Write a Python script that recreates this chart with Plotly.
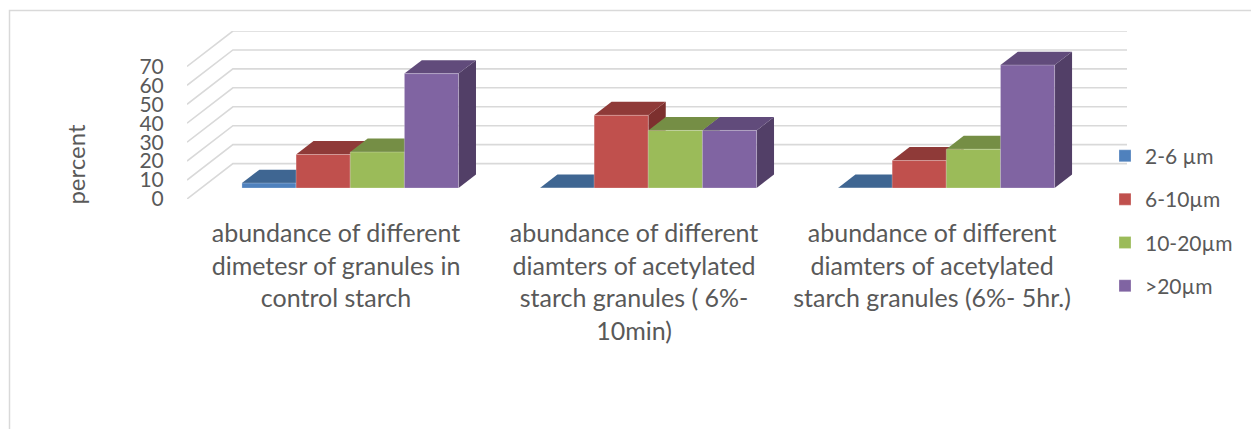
import plotly.graph_objects as go

# Share of granules per diameter class (percent) for each starch sample
categories = [
    "abundance of different<br>dimetesr of granules in<br>control starch",
    "abundance of different<br>diamters of acetylated<br>starch granules ( 6%-<br>10min)",
    "abundance of different<br>diamters of acetylated<br>starch granules (6%- 5hr.)",
]
series_names = ["2-6 µm", "6-10µm", "10-20µm", ">20µm"]
values_2_6 = [2.6, 0, 0]
values_6_10 = [17.7, 38.4, 14.5]
values_10_20 = [19, 30.4, 20.5]
values_over_20 = [60.4, 30.4, 64.9]
series_values = [values_2_6, values_6_10, values_10_20, values_over_20]
y_ticks = [0, 10, 20, 30, 40, 50, 60, 70]

front_colors = ["#4f81bd", "#c0504d", "#9bbb59", "#8064a2"]
top_colors = ["#3f6692", "#8f3a38", "#758e45", "#614b7b"]
side_colors = ["#355579", "#7d302e", "#627738", "#523f67"]
text_color = "#595959"
grid_color = "#d9d9d9"
font_family = "Lato"

# Oblique projection: full floor depth expressed in axis units
WALL_DX = 0.154
WALL_DY = 18.7
BAR_FRONT = 0.31    # where the front faces sit between the front edge and the wall
BAR_DEPTH = 0.38    # how deep each bar is, as a fraction of the floor
BAR_WIDTH = 0.1817  # in category units

FIG_W, FIG_H = 1251, 429
LEFT, RIGHT, TOP, BOTTOM = 187, 1127, 31, 199.5
X_RANGE = [-0.5, 2.5 + WALL_DX]
Y_RANGE = [0, 70 + WALL_DY]


def paper_x(px):
    return (px - LEFT) / (RIGHT - LEFT)


def paper_y(py):
    return (BOTTOM - py) / (BOTTOM - TOP)


def offset(depth):
    return depth * WALL_DX, depth * WALL_DY


fig = go.Figure()

# Floor diagonals and back-wall gridlines
for tick in y_ticks:
    dx, dy = offset(1)
    fig.add_trace(go.Scatter(
        x=[X_RANGE[0], X_RANGE[0] + dx, 2.5 + dx],
        y=[tick, tick + dy, tick + dy],
        mode="lines",
        line=dict(color=grid_color, width=1.6),
        cliponaxis=False,
        showlegend=False,
        hoverinfo="skip",
    ))

# Top and side faces, painted from left to right so later bars hide earlier ones
fx, fy = offset(BAR_FRONT)
bx, by = offset(BAR_DEPTH)
for c in range(len(categories)):
    for s, vals in enumerate(series_values):
        x0 = c + fx + (s - 2) * BAR_WIDTH
        x1 = x0 + BAR_WIDTH
        base = fy
        top = fy + vals[c]
        fig.add_trace(go.Scatter(
            x=[x1, x1 + bx, x1 + bx, x1, x1],
            y=[base, base + by, top + by, top, base],
            mode="lines", fill="toself", fillcolor=side_colors[s],
            line=dict(width=0), showlegend=False, hoverinfo="skip",
        ))
        fig.add_trace(go.Scatter(
            x=[x0, x1, x1 + bx, x0 + bx, x0],
            y=[top, top, top + by, top + by, top],
            mode="lines", fill="toself", fillcolor=top_colors[s],
            line=dict(width=0), showlegend=False, hoverinfo="skip",
        ))

# Front faces live on an overlaid subplot so they stay above the depth faces
for s, vals in enumerate(series_values):
    fig.add_trace(go.Bar(
        x=[c + fx for c in range(len(categories))],
        y=vals,
        base=[fy] * len(vals),
        name=series_names[s],
        legendgroup=series_names[s],
        marker=dict(color=front_colors[s], line=dict(color="rgba(255,255,255,0.25)", width=1)),
        xaxis="x2",
        yaxis="y2",
    ))

fig.update_layout(
    width=FIG_W,
    height=FIG_H,
    margin=dict(l=LEFT, r=FIG_W - RIGHT, t=TOP, b=FIG_H - BOTTOM, autoexpand=False),
    paper_bgcolor="white",
    plot_bgcolor="rgba(0,0,0,0)",
    barmode="group",
    bargap=1 - 4 * BAR_WIDTH,
    bargroupgap=0,
    font=dict(family=font_family, color=text_color),
    xaxis=dict(
        range=X_RANGE,
        tickmode="array",
        tickvals=list(range(len(categories))),
        ticktext=categories,
        tickangle=0,
        tickfont=dict(size=25, color=text_color),
        ticks="outside", ticklen=12, tickcolor="rgba(0,0,0,0)",
        showgrid=False, zeroline=False, showline=False,
    ),
    yaxis=dict(
        range=Y_RANGE,
        tickmode="array",
        tickvals=y_ticks,
        tickfont=dict(size=21, color=text_color),
        ticks="outside", ticklen=18, tickcolor="rgba(0,0,0,0)",
        showgrid=False, zeroline=False, showline=False,
    ),
    xaxis2=dict(range=X_RANGE, overlaying="x", visible=False),
    yaxis2=dict(range=Y_RANGE, overlaying="y", visible=False),
    legend=dict(
        x=paper_x(1105), xanchor="left",
        y=paper_y(136), yanchor="top",
        font=dict(size=21, color=text_color),
        tracegroupgap=13,
        itemwidth=30,
        maxheight=300,
        bgcolor="rgba(0,0,0,0)",
    ),
    annotations=[dict(
        text="percent", textangle=-90,
        xref="paper", yref="paper",
        x=paper_x(76), y=paper_y(165),
        xanchor="center", yanchor="middle",
        showarrow=False,
        font=dict(size=24, color=text_color),
    )],
    shapes=[dict(
        type="rect", xref="paper", yref="paper",
        x0=paper_x(9.5), x1=paper_x(FIG_W + 20),
        y0=paper_y(10.5), y1=paper_y(FIG_H + 20),
        line=dict(color=grid_color, width=1.5),
        fillcolor="rgba(0,0,0,0)",
        layer="below",
    )],
)

fig.write_html("out.html")
